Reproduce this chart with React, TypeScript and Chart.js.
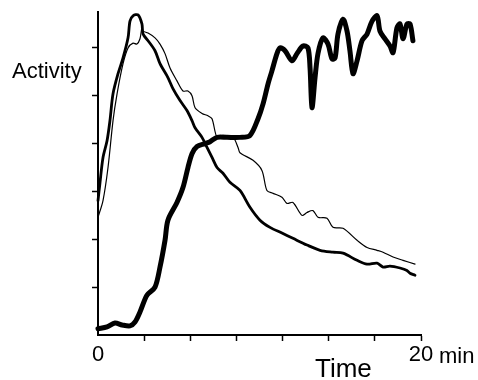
import React, { useEffect, useRef } from "react";
import { Chart, registerables } from "chart.js";

Chart.register(...registerables);

// Time in minutes, activity in arbitrary units
const thickX = [0, 0.56, 1.05, 1.49, 1.98, 2.29, 2.6, 3.03, 3.53, 3.84, 4.15, 4.33, 4.89, 5.26, 5.57, 5.82, 6.13, 6.63, 6.94, 7.37, 7.99, 8.79, 9.41, 9.91, 10.22, 10.53, 10.77, 11.08, 11.27, 11.58, 12.01, 12.32, 12.69, 13.0, 13.13, 13.25, 13.44, 13.62, 13.93, 14.24, 14.49, 14.68, 14.86, 15.17, 15.42, 15.6, 15.79, 16.04, 16.35, 16.66, 16.97, 17.28, 17.46, 17.77, 18.08, 18.27, 18.51, 18.7, 18.89, 19.13, 19.32, 19.5];
const thickY = [0.13, 0.17, 0.25, 0.21, 0.19, 0.27, 0.48, 0.83, 1.0, 1.42, 1.98, 2.4, 2.77, 3.08, 3.5, 3.79, 3.94, 4.0, 4.04, 4.13, 4.13, 4.13, 4.17, 4.52, 4.83, 5.25, 5.52, 5.88, 6.0, 5.94, 5.73, 5.88, 6.04, 6.0, 5.58, 4.75, 5.38, 5.88, 6.21, 6.08, 5.77, 5.79, 6.29, 6.6, 6.35, 5.94, 5.46, 5.73, 6.15, 6.29, 6.56, 6.67, 6.35, 6.19, 6.04, 5.9, 6.42, 6.5, 6.19, 6.5, 6.5, 6.15];

const mediumX = [0, 0.12, 0.31, 0.56, 0.74, 0.93, 1.24, 1.55, 1.86, 1.98, 2.17, 2.48, 2.72, 2.79, 3.1, 3.53, 3.84, 4.33, 4.64, 5.08, 5.51, 5.82, 6.01, 6.44, 6.75, 7.06, 7.37, 7.74, 8.17, 8.79, 9.41, 10.03, 10.65, 11.39, 12.07, 12.94, 13.75, 14.55, 15.17, 16.04, 16.66, 17.28, 17.65, 18.08, 18.7, 19.13, 19.32, 19.63];
const mediumY = [2.81, 3.17, 3.71, 4.06, 4.48, 5.04, 5.46, 5.79, 6.21, 6.56, 6.67, 6.69, 6.5, 6.29, 6.15, 5.94, 5.67, 5.38, 5.15, 4.9, 4.69, 4.48, 4.33, 4.13, 3.92, 3.71, 3.5, 3.38, 3.19, 3.02, 2.67, 2.4, 2.25, 2.13, 2.02, 1.88, 1.77, 1.73, 1.71, 1.56, 1.48, 1.5, 1.42, 1.44, 1.4, 1.35, 1.29, 1.25];

const thinX = [0, 0.31, 0.62, 0.93, 1.18, 1.55, 1.86, 2.17, 2.41, 2.6, 2.72, 2.79, 3.1, 3.53, 3.84, 4.15, 4.46, 4.89, 5.26, 5.57, 5.82, 6.01, 6.44, 6.81, 7.06, 7.37, 7.74, 8.36, 8.67, 8.79, 9.6, 10.15, 10.46, 10.84, 11.39, 11.7, 12.07, 12.63, 12.94, 13.31, 13.62, 14.18, 14.55, 15.17, 16.04, 16.66, 17.28, 17.65, 18.27, 18.89, 19.63];
const thinY = [2.46, 2.81, 3.5, 4.48, 5.04, 5.67, 6.0, 6.1, 6.08, 6.19, 6.42, 6.35, 6.31, 6.21, 6.08, 5.88, 5.58, 5.31, 5.1, 5.1, 5.0, 4.75, 4.63, 4.58, 4.52, 4.13, 4.17, 4.13, 3.92, 3.81, 3.65, 3.44, 3.02, 2.96, 2.88, 2.75, 2.77, 2.5, 2.56, 2.6, 2.46, 2.44, 2.25, 2.23, 1.98, 1.83, 1.77, 1.73, 1.63, 1.56, 1.48];

const X_MIN = 0;
const X_MAX = 20;
const X_TICKS = [0, 20 / 7, 40 / 7, 60 / 7, 80 / 7, 100 / 7, 120 / 7, 20];
const X_TICK_LABELS = ["0", "", "", "", "", "", "", "20"];
const Y_MAX = 6.75;
const Y_TICKS = [1, 2, 3, 4, 5, 6];

const X_UNIT = "min";
const X_TITLE = "Time";
const Y_TITLE = "Activity";

const FONT = "'Liberation Sans', Arial, sans-serif";

const toPts = (xs: number[], ys: number[]) => xs.map((x, i) => ({ x, y: ys[i] }));

const textPlugin = {
  id: "axisTexts",
  afterDraw(chart: any) {
    const { ctx, scales } = chart;
    const xs = scales.x;
    ctx.save();
    ctx.fillStyle = "#000";
    ctx.textAlign = "left";
    ctx.textBaseline = "alphabetic";
    ctx.font = `22px ${FONT}`;
    ctx.fillText(X_UNIT, xs.getPixelForValue(X_MAX) + 18, 363);
    ctx.font = `26px ${FONT}`;
    ctx.fillText(X_TITLE, 315, 377);
    ctx.font = `22px ${FONT}`;
    ctx.fillText(Y_TITLE, 12, 78);
    ctx.restore();
  },
};

export default function App() {
  const ref = useRef<HTMLCanvasElement>(null);
  useEffect(() => {
    document.body.style.margin = "0";
    const line = (xs: number[], ys: number[], w: number) => ({
      data: toPts(xs, ys),
      borderColor: "#000",
      borderWidth: w,
      pointRadius: 0,
      tension: 0.3,
      borderCapStyle: "round",
      borderJoinStyle: "round",
      clip: false,
      fill: false,
    });
    const chart = new Chart(ref.current!, {
      type: "line",
      data: {
        datasets: [
          line(thinX, thinY, 1.2),
          line(mediumX, mediumY, 2.8),
          line(thickX, thickY, 5),
        ] as any,
      },
      options: {
        animation: false,
        responsive: false,
        events: [],
        layout: { padding: { left: 0, right: 57, top: 12, bottom: 0 } },
        plugins: { legend: { display: false }, tooltip: { enabled: false } },
        scales: {
          x: {
            type: "linear",
            min: X_MIN,
            max: X_MAX,
            afterBuildTicks: (s: any) => {
              s.ticks = X_TICKS.map((v) => ({ value: v }));
            },
            afterFit: (s: any) => {
              s.height = 45;
            },
            border: { display: true, color: "#000", width: 2 },
            grid: {
              drawOnChartArea: false,
              drawTicks: true,
              tickLength: 6,
              tickWidth: 1.5,
              tickColor: (c: any) => (c.index === 0 ? "rgba(0,0,0,0)" : "#000"),
            },
            ticks: {
              color: "#000",
              font: { family: FONT, size: 22 },
              padding: 1,
              maxRotation: 0,
              autoSkip: false,
              callback: (_v: any, i: number) => X_TICK_LABELS[i],
            },
          },
          y: {
            type: "linear",
            min: 0,
            max: Y_MAX,
            afterBuildTicks: (s: any) => {
              s.ticks = Y_TICKS.map((v) => ({ value: v }));
            },
            afterFit: (s: any) => {
              s.width = 98;
            },
            border: { display: true, color: "#000", width: 2 },
            grid: {
              drawOnChartArea: false,
              drawTicks: true,
              tickLength: 6,
              tickWidth: 1.5,
              tickColor: "#000",
            },
            ticks: { display: false },
          },
        },
      },
      plugins: [textPlugin],
    });
    return () => chart.destroy();
  }, []);
  return (
    <div style={{ position: "absolute", left: 0, top: 0, width: 478, height: 380, background: "#fff" }}>
      <canvas ref={ref} width={478} height={380} />
    </div>
  );
}
